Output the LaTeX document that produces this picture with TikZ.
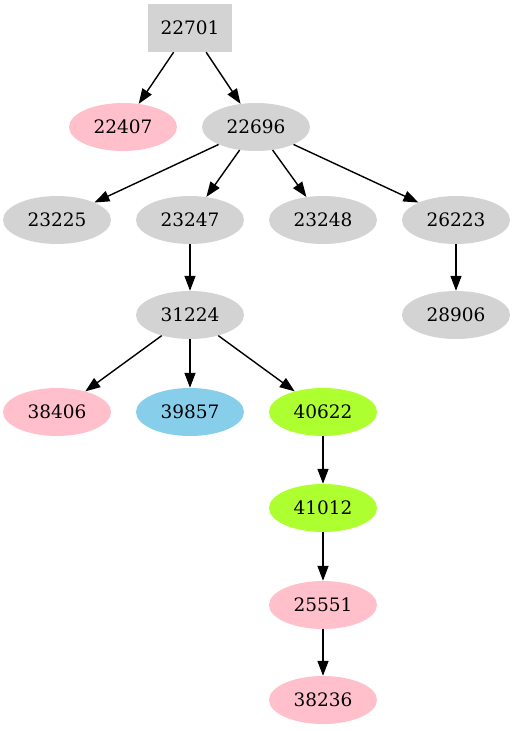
\documentclass[tikz,border=0pt]{standalone}
\usepackage{fontspec}
\setmainfont{DejaVu Serif}
\usetikzlibrary{shapes.geometric,arrows.meta}
\definecolor{lgray}{RGB}{211,211,211}
\definecolor{lpink}{RGB}{255,192,203}
\definecolor{sky}{RGB}{135,206,235}
\definecolor{gy}{RGB}{173,255,47}
\begin{document}
\begin{tikzpicture}[x=1pt,y=1pt,
  every node/.style={font=\fontsize{18.5}{22}\selectfont},
  ell/.style={ellipse,draw=none,minimum width=108pt,minimum height=48pt,inner sep=0pt},
  boxnode/.style={rectangle,fill=lgray,minimum width=84pt,minimum height=48pt,inner sep=0pt},
  edge/.style={draw=black,line width=1.4pt,-{Triangle[length=15pt,width=11pt]}}]
\useasboundingbox (0,0) rectangle (514,-731);
\node[boxnode] (n22701) at (190,-28) {22701};
\node[ell,fill=lpink] (n22407) at (123,-127) {22407};
\node[ell,fill=lgray] (n22696) at (256,-127) {22696};
\node[ell,fill=lgray] (n23225) at (57,-220) {23225};
\node[ell,fill=lgray] (n23247) at (190,-220) {23247};
\node[ell,fill=lgray] (n23248) at (323,-220) {23248};
\node[ell,fill=lgray] (n26223) at (456,-220) {26223};
\node[ell,fill=lgray] (n28906) at (456,-315) {28906};
\node[ell,fill=lgray] (n31224) at (190,-315) {31224};
\node[ell,fill=lpink] (n38406) at (57,-412) {38406};
\node[ell,fill=sky] (n39857) at (190,-412) {39857};
\node[ell,fill=gy] (n40622) at (323,-412) {40622};
\node[ell,fill=gy] (n41012) at (323,-508) {41012};
\node[ell,fill=lpink] (n25551) at (323,-605) {25551};
\node[ell,fill=lpink] (n38236) at (323,-700) {38236};
\draw[edge] (n22701) -- (n22407);
\draw[edge] (n22701) -- (n22696);
\draw[edge] (n22696) -- (n23225);
\draw[edge] (n22696) -- (n23247);
\draw[edge] (n22696) -- (n23248);
\draw[edge] (n22696) -- (n26223);
\draw[edge] (n26223) -- (n28906);
\draw[edge] (n23247) -- (n31224);
\draw[edge] (n31224) -- (n38406);
\draw[edge] (n31224) -- (n39857);
\draw[edge] (n31224) -- (n40622);
\draw[edge] (n40622) -- (n41012);
\draw[edge] (n41012) -- (n25551);
\draw[edge] (n25551) -- (n38236);
\end{tikzpicture}
\end{document}
